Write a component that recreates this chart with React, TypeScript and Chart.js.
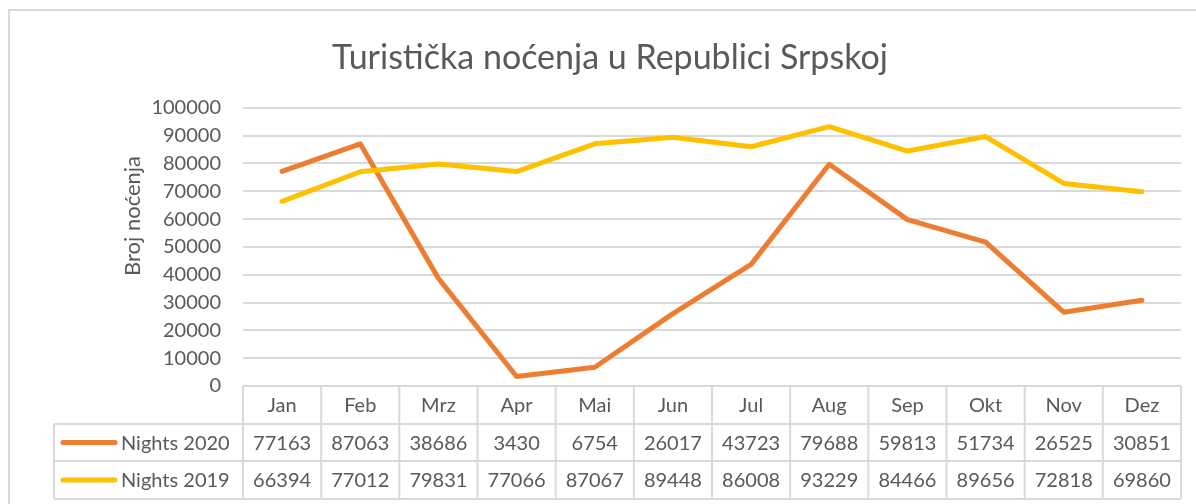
import React, { useEffect, useRef } from "react";
import { Chart, registerables } from "chart.js";

Chart.register(...registerables);

const chartTitle = "Turistička noćenja u Republici Srpskoj";
const yAxisTitle = "Broj noćenja";
const months = ["Jan", "Feb", "Mrz", "Apr", "Mai", "Jun", "Jul", "Aug", "Sep", "Okt", "Nov", "Dez"];
const seriesLabels = ["Nights 2020", "Nights 2019"];
const nights2020 = [77163, 87063, 38686, 3430, 6754, 26017, 43723, 79688, 59813, 51734, 26525, 30851];
const nights2019 = [66394, 77012, 79831, 77066, 87067, 89448, 86008, 93229, 84466, 89656, 72818, 69860];
const yMin = 0;
const yMax = 100000;
const yStep = 10000;

const seriesColors = ["#ED7D31", "#FFC000"];
const seriesData = [nights2020, nights2019];
const TEXT = "#595959";
const GRID = "#d9d9d9";
const FONT = "Lato";

const framePlugin = {
  id: "frame",
  beforeDraw(chart: any) {
    const ctx = chart.ctx;
    ctx.save();
    ctx.fillStyle = "#ffffff";
    ctx.fillRect(0, 0, chart.width, chart.height);
    ctx.strokeStyle = GRID;
    ctx.lineWidth = 2;
    ctx.strokeRect(9, 10, chart.width + 20, chart.height + 20);
    ctx.restore();
  },
};

const axisTitlePlugin = {
  id: "axisTitle",
  afterDraw(chart: any) {
    const ctx = chart.ctx;
    ctx.save();
    ctx.translate(133, 216);
    ctx.rotate(-Math.PI / 2);
    ctx.fillStyle = TEXT;
    ctx.font = `22px ${FONT}`;
    ctx.textAlign = "center";
    ctx.textBaseline = "middle";
    ctx.fillText(yAxisTitle, 0, 0);
    ctx.restore();
  },
};

const tablePlugin = {
  id: "dataTable",
  afterDraw(chart: any) {
    const ctx = chart.ctx;
    const xs = chart.scales.x;
    const area = chart.chartArea;
    const n = months.length;
    const colW = (area.right - area.left) / n;
    const top = area.bottom;
    const r1 = top + 38;
    const r2 = r1 + 37;
    const r3 = r2 + 38;
    const legendLeft = 54;
    ctx.save();
    ctx.strokeStyle = GRID;
    ctx.lineWidth = 2;
    ctx.beginPath();
    ctx.moveTo(area.left, top);
    ctx.lineTo(area.right, top);
    [r1, r2, r3].forEach((y) => {
      ctx.moveTo(legendLeft, y);
      ctx.lineTo(area.right, y);
    });
    for (let i = 0; i <= n; i++) {
      const x = i < n ? xs.getPixelForValue(i) - colW / 2 : xs.getPixelForValue(n - 1) + colW / 2;
      ctx.moveTo(x, top);
      ctx.lineTo(x, r3);
    }
    ctx.moveTo(legendLeft, r1);
    ctx.lineTo(legendLeft, r3);
    ctx.stroke();

    ctx.fillStyle = TEXT;
    ctx.font = `20px ${FONT}`;
    ctx.textAlign = "center";
    ctx.textBaseline = "middle";
    months.forEach((m, i) => {
      ctx.fillText(m, xs.getPixelForValue(i), (top + r1) / 2 + 1);
    });
    const rowsY = [(r1 + r2) / 2 + 1, (r2 + r3) / 2 + 1];
    seriesData.forEach((arr, s) => {
      arr.forEach((v, i) => {
        ctx.fillText(String(v), xs.getPixelForValue(i), rowsY[s]);
      });
    });
    seriesLabels.forEach((lab, s) => {
      const y = rowsY[s] - 1;
      ctx.strokeStyle = seriesColors[s];
      ctx.lineWidth = 5;
      ctx.lineCap = "round";
      ctx.beginPath();
      ctx.moveTo(63, y);
      ctx.lineTo(115, y);
      ctx.stroke();
      ctx.textAlign = "left";
      ctx.fillText(lab, 121, rowsY[s]);
    });
    ctx.restore();
  },
};

export default function App() {
  const ref = useRef<HTMLCanvasElement | null>(null);
  useEffect(() => {
    if (!ref.current) return;
    const chart = new Chart(ref.current, {
      type: "line",
      data: {
        labels: months,
        datasets: seriesLabels.map((label, s) => ({
          label,
          data: seriesData[s],
          borderColor: seriesColors[s],
          backgroundColor: seriesColors[s],
          borderWidth: 5,
          pointRadius: 0,
          borderCapStyle: "round" as const,
          borderJoinStyle: "round" as const,
          tension: 0,
          order: s === 0 ? 1 : 0,
        })),
      },
      options: {
        responsive: false,
        animation: false,
        layout: { padding: { left: 39, right: 15, top: 0, bottom: 118 } },
        plugins: {
          legend: { display: false },
          tooltip: { enabled: false },
          title: {
            display: true,
            text: chartTitle,
            color: TEXT,
            font: { family: FONT, size: 34, weight: "normal" },
            padding: { top: 38, bottom: 29 },
          },
        },
        scales: {
          x: { display: false, offset: true },
          y: {
            min: yMin,
            max: yMax,
            ticks: {
              stepSize: yStep,
              color: TEXT,
              padding: 22,
              font: { family: FONT, size: 20 },
              callback: (v: any) => String(v),
            },
            grid: { color: GRID, lineWidth: 2, drawTicks: false },
            border: { display: false },
            afterFit(scale: any) {
              scale.width = 243 - 39;
            },
          },
        },
      },
      plugins: [framePlugin, tablePlugin, axisTitlePlugin],
    });
    return () => chart.destroy();
  }, []);
  return (
    <div style={{ position: "fixed", left: 0, top: 0, width: 1196, height: 504 }}>
      <canvas ref={ref} width={1196} height={504} style={{ display: "block" }} />
    </div>
  );
}
